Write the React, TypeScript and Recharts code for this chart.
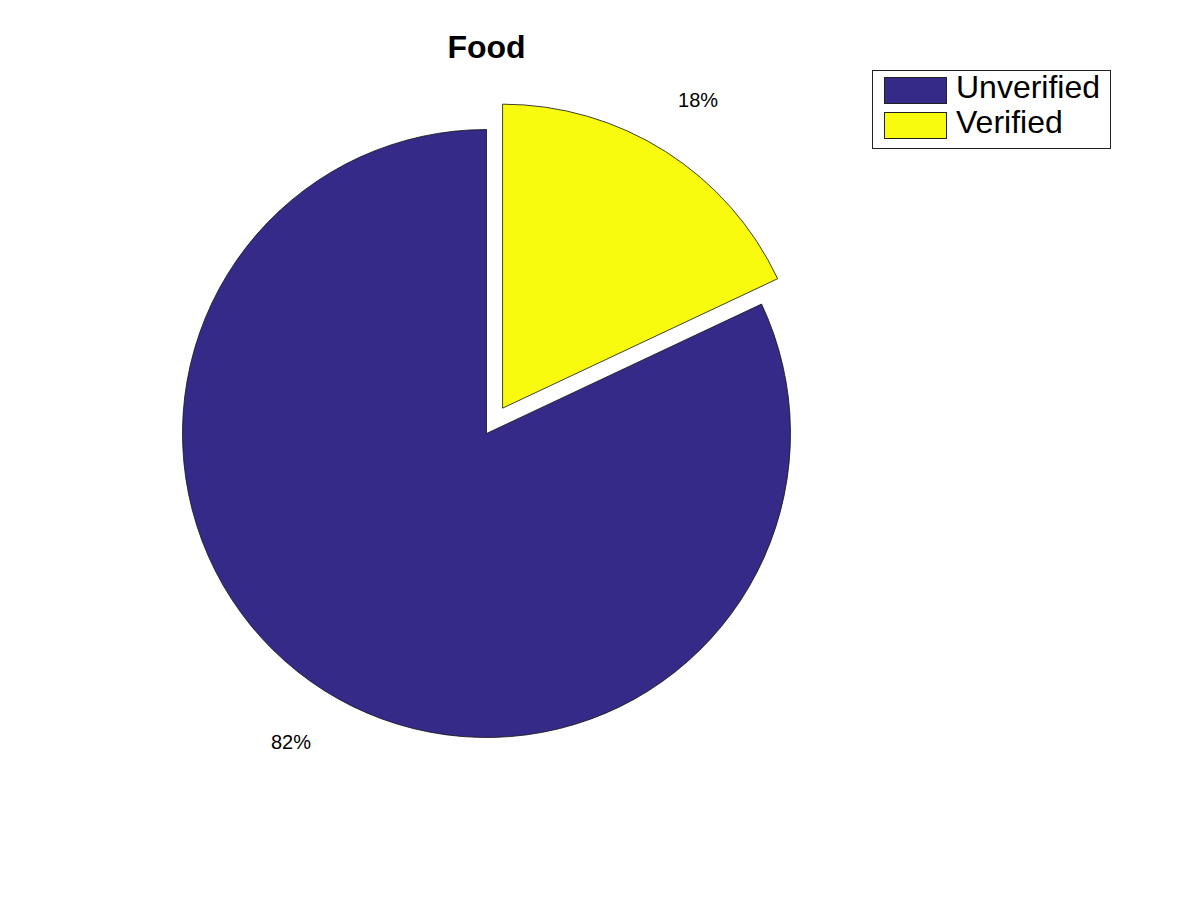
import React from 'react';
import { PieChart, Pie, Cell, Legend } from 'recharts';

const categories = ['Unverified', 'Verified'];
const values = [82, 18];
const colors = ['#352a87', '#f9fb0e'];
const exploded = [false, true];
const title = 'Food';

const data = categories.map((name, i) => ({ name, value: values[i] }));
const total = values.reduce((a, b) => a + b, 0);

const START = 90;
const END = 450;
const CX = 486.5;
const CY = 433.5;
const R = 304;
const EXPLODE = 30;
const RAD = Math.PI / 180;

// mid angle of each slice (degrees), counter-clockwise from START
const midAngles: number[] = [];
{
  let acc = START;
  values.forEach((v) => {
    const span = (v / total) * (END - START);
    midAngles.push(acc + span / 2);
    acc += span;
  });
}

const FONT = '"Liberation Sans", Arial, Helvetica, sans-serif';

const makeLabel = (visible: (i: number) => boolean) => (props: any) => {
  const { cx, cy, midAngle, outerRadius, percent, index } = props;
  if (!visible(index)) return <g />;
  const r = outerRadius * 1.2;
  const x = cx + r * Math.cos(-midAngle * RAD);
  const y = cy + r * Math.sin(-midAngle * RAD);
  return (
    <text
      x={x}
      y={y}
      textAnchor="middle"
      dominantBaseline="central"
      fill="#000"
      style={{ fontFamily: FONT, fontSize: 20 }}
    >
      {`${Math.round(percent * 100)}%`}
    </text>
  );
};

const LegendBox = () => (
  <div
    style={{
      border: '1px solid #222',
      background: '#fff',
      width: 239,
      height: 79,
      boxSizing: 'border-box',
      paddingTop: 2,
      paddingLeft: 11,
      fontFamily: FONT,
    }}
  >
    {categories.map((c, i) => (
      <div key={c} style={{ display: 'flex', alignItems: 'center', height: 35, position: 'relative' }}>
        <div
          style={{
            width: 63,
            height: 27,
            background: colors[i],
            border: '1px solid #222',
            boxSizing: 'border-box',
          }}
        />
        <span
          style={{
            marginLeft: 9,
            fontSize: 32,
            lineHeight: '35px',
            color: '#000',
            position: 'relative',
            top: -3,
          }}
        >
          {c}
        </span>
      </div>
    ))}
  </div>
);

export default function App() {
  return (
    <div style={{ position: 'absolute', left: 0, top: 0, width: 1200, height: 900, background: '#fff' }}>
      <div
        style={{
          position: 'absolute',
          left: 0,
          width: 973,
          top: 27,
          textAlign: 'center',
          fontFamily: FONT,
          fontWeight: 'bold',
          fontSize: 32,
          lineHeight: '40px',
          color: '#000',
          zIndex: 2,
        }}
      >
        {title}
      </div>
      <PieChart width={1200} height={900} margin={{ top: 0, right: 0, bottom: 0, left: 0 }}>
        {/* non-exploded slices */}
        <Pie
          data={data}
          dataKey="value"
          nameKey="name"
          cx={CX}
          cy={CY}
          outerRadius={R}
          innerRadius={0}
          startAngle={START}
          endAngle={END}
          isAnimationActive={false}
          labelLine={false}
          label={makeLabel((i) => !exploded[i])}
          legendType="none"
        >
          {data.map((d, i) => (
            <Cell
              key={d.name}
              fill={exploded[i] ? 'none' : colors[i]}
              stroke={exploded[i] ? 'none' : '#111'}
              strokeWidth={0.8}
            />
          ))}
        </Pie>
        {/* exploded slices */}
        {data.map((d, i) =>
          exploded[i] ? (
            <Pie
              key={'ex' + d.name}
              data={data}
              dataKey="value"
              nameKey="name"
              cx={CX + EXPLODE * Math.cos(midAngles[i] * RAD)}
              cy={CY - EXPLODE * Math.sin(midAngles[i] * RAD)}
              outerRadius={R}
              innerRadius={0}
              startAngle={START}
              endAngle={END}
              isAnimationActive={false}
              labelLine={false}
              label={makeLabel((j) => j === i)}
              legendType="none"
            >
              {data.map((dd, j) => (
                <Cell
                  key={dd.name}
                  fill={j === i ? colors[j] : 'none'}
                  stroke={j === i ? '#111' : 'none'}
                  strokeWidth={0.8}
                />
              ))}
            </Pie>
          ) : null
        )}
        <Legend
          content={<LegendBox />}
          wrapperStyle={{ position: 'absolute', left: 872, top: 70, width: 239, height: 79 }}
        />
      </PieChart>
    </div>
  );
}
